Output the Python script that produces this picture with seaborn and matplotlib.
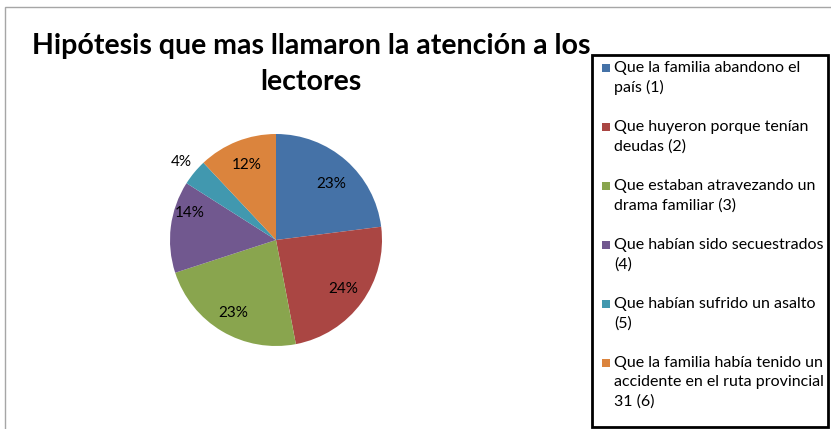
import seaborn as sns
import matplotlib.pyplot as plt
from matplotlib.patches import Rectangle
import numpy as np

# datos
hipotesis = ['Que la familia abandono el\npaís (1)',
             'Que huyeron porque tenían\ndeudas (2)',
             'Que estaban atravezando un\ndrama familiar (3)',
             'Que habían sido secuestrados\n(4)',
             'Que habían sufrido un asalto\n(5)',
             'Que la familia había tenido un\naccidente en el ruta provincial\n31 (6)']
porcentajes = [23, 24, 23, 14, 4, 12]
colores = ['#4572A7', '#AA4643', '#89A54E', '#71588F', '#4198AF', '#DB843D']

sns.set_theme(style="white")
plt.rcParams['font.family'] = ['Lato', 'DejaVu Sans']

W, H = 831, 429
fig = plt.figure(figsize=(W / 100, H / 100), dpi=100)


def px(x, y):
    return x / W, 1 - y / H


# marco gris del gráfico
fig.patches.append(Rectangle(px(5, 440), (W + 20) / W, 433 / H, transform=fig.transFigure,
                             fill=False, edgecolor='#a6a6a6', linewidth=1))

# pastel
cx, cy, r = 276, 240, 106
ax = fig.add_axes([(cx - r) / W, (H - cy - r) / H, 2 * r / W, 2 * r / H])
wedges, _ = ax.pie(porcentajes, colors=colores, startangle=90, counterclock=False,
                   wedgeprops=dict(linewidth=0))
ax.set_xlim(-1, 1)
ax.set_ylim(-1, 1)
ax.set_aspect('equal')
ax.axis('off')

# posición de las etiquetas (distancia al centro y giro en grados)
dist = [0.74, 0.78, 0.80, 0.85, 1.16, 0.76]
giro = [3, 0, 0, 10, 0, 0]
for w, p, d, g in zip(wedges, porcentajes, dist, giro):
    ang = np.deg2rad((w.theta1 + w.theta2) / 2 - g)
    ax.text(d * np.cos(ang), d * np.sin(ang), f'{p}%', ha='center', va='center',
            fontsize=11, color='black')

# título
fig.text(*px(311, 64), 'Hipótesis que mas llamaron la atención a los\nlectores',
         ha='center', va='center', fontsize=20.5, fontweight='bold', linespacing=1.45,
         color='black')

# leyenda
fig.patches.append(Rectangle(px(592, 427), 236 / W, 372 / H, transform=fig.transFigure,
                             fill=False, edgecolor='black', linewidth=2))
for i, (lab, col) in enumerate(zip(hipotesis, colores)):
    y = 68 + 59 * i
    fig.patches.append(Rectangle(px(602, y + 4), 8 / W, 8 / H, transform=fig.transFigure,
                                 facecolor=col, edgecolor='none'))
    fig.text(*px(614, y - 7), lab, ha='left', va='top', fontsize=11.5, linespacing=1.45,
             color='black')

fig.savefig('out.png', dpi=100)
